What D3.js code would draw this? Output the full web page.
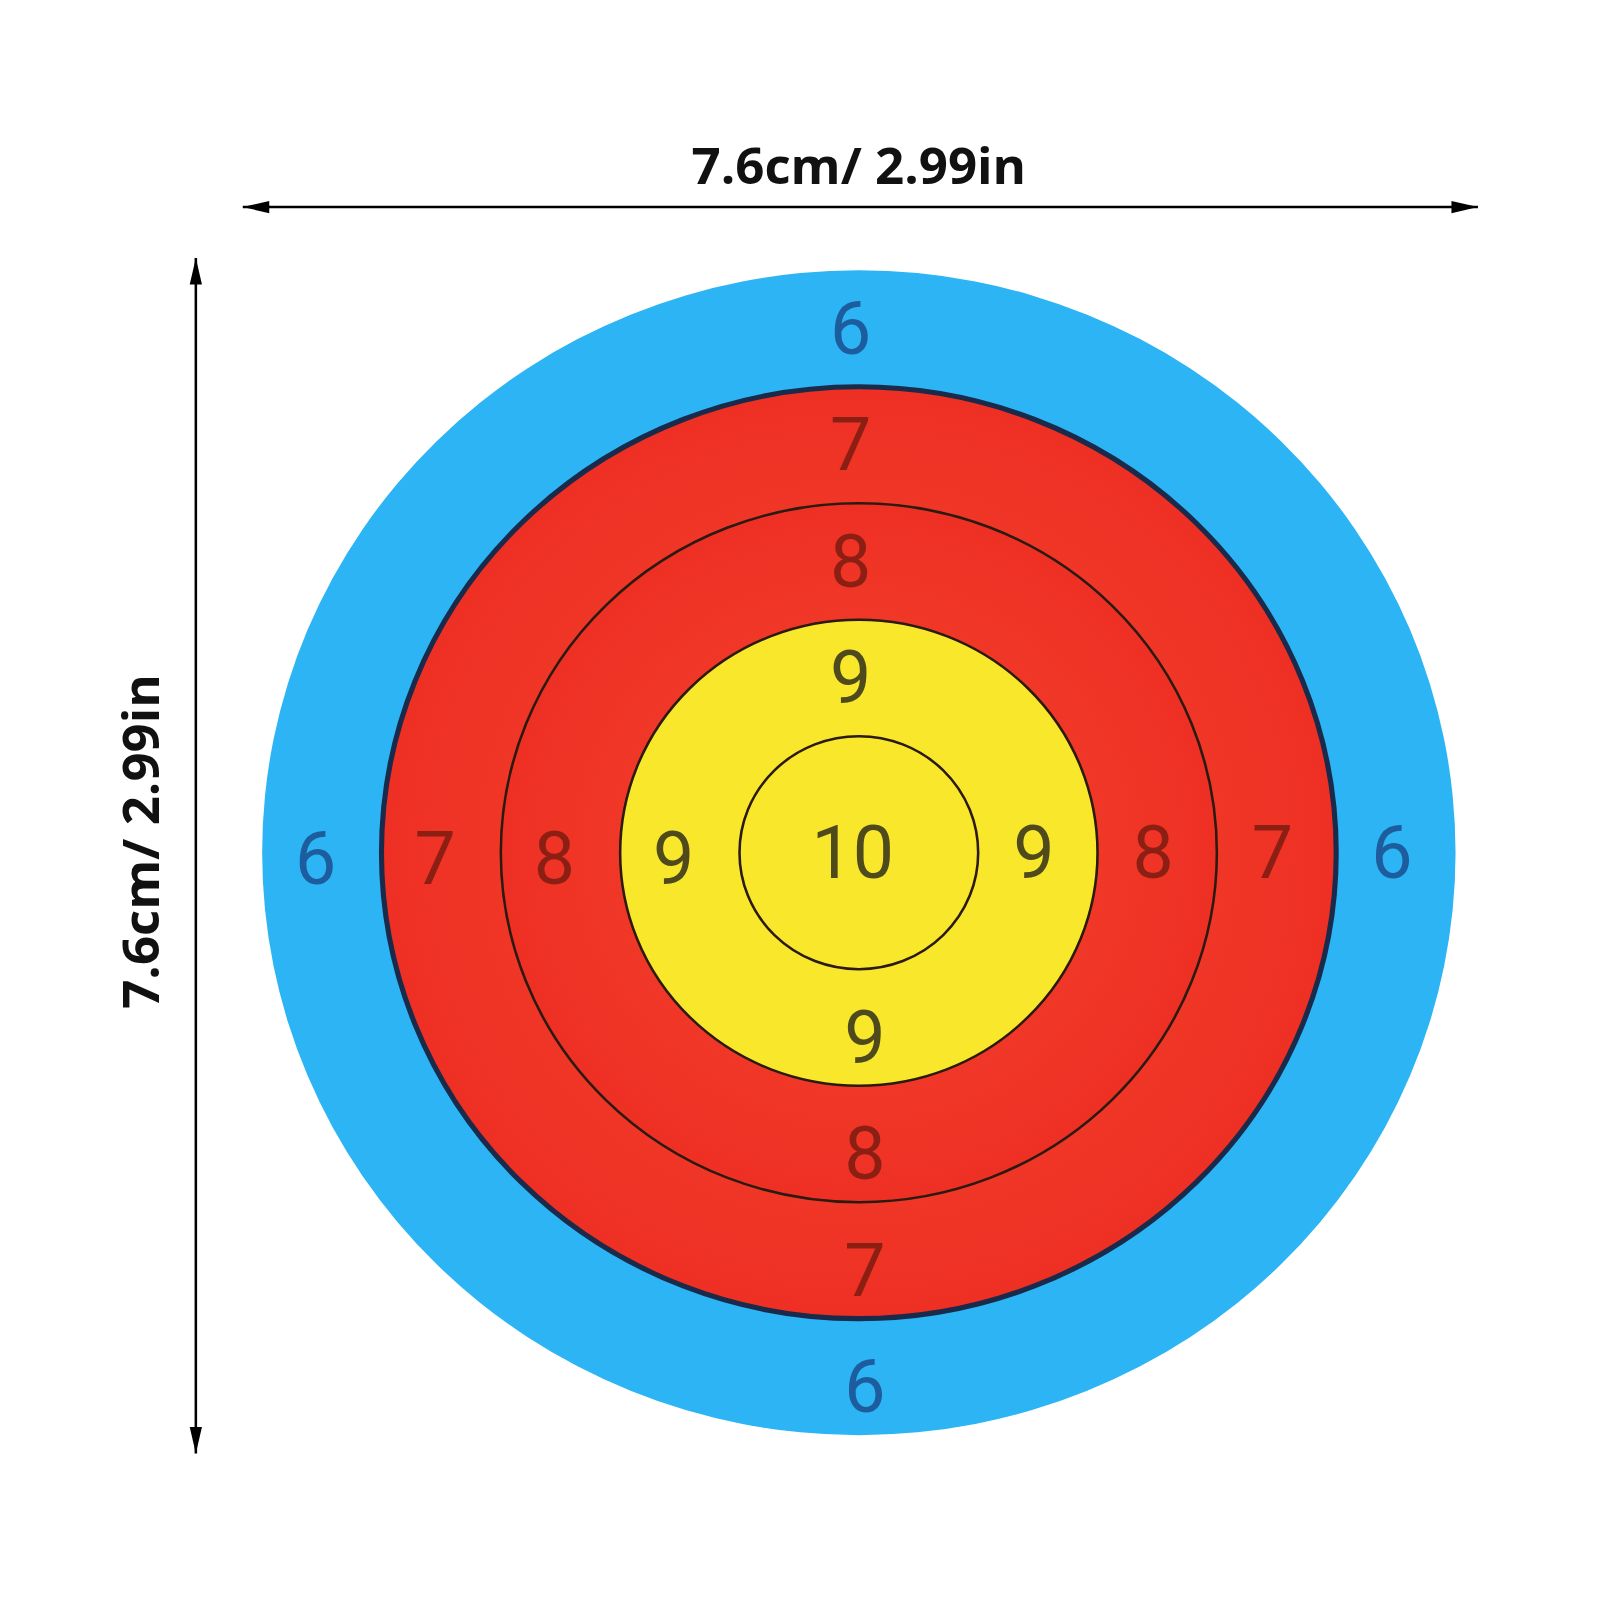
<!DOCTYPE html>
<html><head><meta charset="utf-8">
<script src="https://cdn.jsdelivr.net/npm/d3@7"></script>
<style>body{margin:0;background:#fff}</style>
</head><body>
<svg id="chart" width="1600" height="1600"></svg>
<script>
// ring scores from outside in, with fill and label colour
const scores = [6, 7, 8, 9, 10];
const ringFills = ['#2cb4f4', '#f23c2c', '#f23c2c', '#f9e72c', '#f9e72c'];
const labelColors = ['#1d5d9e', '#8c1f14', '#8c1f14', '#4f4a1c', '#4f4a1c'];
const dimLabel = '7.6cm/ 2.99in';

const root = d3.select('#chart');
const svg = root.append('g').attr('transform', 'scale(1.02)');
const cx = 842, cy = 836;

// ring index -> outer radius (slightly squashed vertically like the photo)
const rx = d3.scaleLinear().domain([0, 5]).range([585, 0]);
const ry = d3.scaleLinear().domain([0, 5]).range([571, 0]);

const grad = root.append('defs').append('radialGradient').attr('id', 'red');
grad.append('stop').attr('offset', '0%').attr('stop-color', '#f5472e');
grad.append('stop').attr('offset', '100%').attr('stop-color', '#ee3024');

svg.selectAll('ellipse.ring')
  .data(scores)
  .enter().append('ellipse')
  .attr('class', 'ring')
  .attr('cx', cx).attr('cy', cy)
  .attr('rx', (d, i) => rx(i))
  .attr('ry', (d, i) => ry(i))
  .attr('fill', (d, i) => (i === 1 || i === 2) ? 'url(#red)' : ringFills[i])
  .attr('stroke', (d, i) => i === 0 ? 'none' : (i === 1 ? '#1a2a4a' : '#2a1a10'))
  .attr('stroke-width', (d, i) => i === 1 ? 5 : 2.5);

// labels at band midpoints in four directions
const labels = [];
scores.forEach((s, i) => {
  if (s === 10) {
    labels.push({ s, i, x: cx - 6, y: cy });
    return;
  }
  const mx = (rx(i) + rx(i + 1)) / 2, my = (ry(i) + ry(i + 1)) / 2;
  labels.push({ s, i, x: cx - 8, y: cy - my });
  labels.push({ s, i, x: cx + 6, y: cy + my + 10 });
  labels.push({ s, i, x: cx - mx - 6, y: cy + 6 });
  labels.push({ s, i, x: cx + mx - 4, y: cy });
});

svg.selectAll('text.score')
  .data(labels)
  .enter().append('text')
  .attr('class', 'score')
  .attr('x', d => d.x).attr('y', d => d.y)
  .attr('text-anchor', 'middle')
  .attr('dominant-baseline', 'central')
  .attr('font-family', 'Roboto, sans-serif')
  .attr('font-weight', 400)
  .attr('font-size', 72)
  .attr('fill', d => labelColors[d.i])
  .text(d => d.s);

// dimension arrows
function arrow(x1, y1, x2, y2) {
  svg.append('line').attr('x1', x1).attr('y1', y1).attr('x2', x2).attr('y2', y2)
    .attr('stroke', '#000').attr('stroke-width', 2.5);
  const ang = Math.atan2(y2 - y1, x2 - x1);
  [[x1, y1, ang + Math.PI], [x2, y2, ang]].forEach(([x, y, a]) => {
    const p = [[x, y],
      [x - 26 * Math.cos(a) + 6 * Math.sin(a), y - 26 * Math.sin(a) - 6 * Math.cos(a)],
      [x - 26 * Math.cos(a) - 6 * Math.sin(a), y - 26 * Math.sin(a) + 6 * Math.cos(a)]];
    svg.append('polygon').attr('points', p.join(' ')).attr('fill', '#000');
  });
}
arrow(238, 203, 1449, 203);
arrow(192, 253, 192, 1425);

svg.append('text').attr('x', 842).attr('y', 180)
  .attr('text-anchor', 'middle').attr('font-family', 'Open Sans, sans-serif')
  .attr('font-weight', 700).attr('font-size', 50).attr('fill', '#111')
  .text(dimLabel);
svg.append('text').attr('transform', 'translate(156,825) rotate(-90)')
  .attr('text-anchor', 'middle').attr('font-family', 'Open Sans, sans-serif')
  .attr('font-weight', 700).attr('font-size', 50).attr('fill', '#111')
  .text(dimLabel);
</script>
</body></html>
